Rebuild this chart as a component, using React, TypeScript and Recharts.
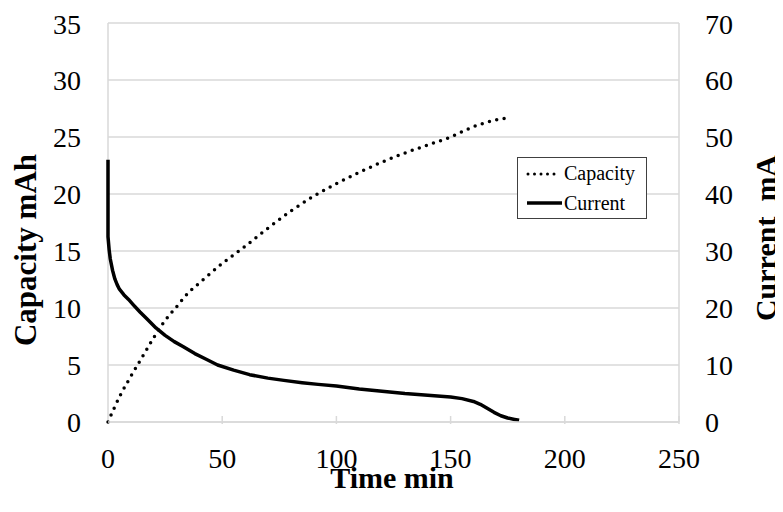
import { LineChart, Line, XAxis, YAxis, CartesianGrid, Legend, Label } from "recharts"

// time (min) / capacity (mAh)
const capTime = [0, 2, 5, 10, 15, 20, 25, 30, 35, 40, 50, 60, 70, 80, 90, 100, 110, 120, 130, 140, 150, 160, 170, 176]
const capValue = [0, 0.9, 2.2, 4.0, 5.7, 7.4, 8.9, 10.1, 11.3, 12.2, 13.9, 15.4, 17.0, 18.5, 19.8, 20.9, 21.9, 22.8, 23.6, 24.3, 25.0, 25.9, 26.5, 26.7]

// time (min) / current (mA)
const curTime = [0, 0, 0.5, 1, 2, 3, 4, 5, 7, 9, 11, 14, 17, 21, 25, 29, 33, 38, 43, 48, 55, 62, 70, 77, 85, 92, 100, 110, 120, 130, 140, 150, 155, 160, 163, 166, 169, 172, 175, 178, 180]
const curValue = [46, 32.5, 30.2, 28.6, 26.6, 25.1, 24.1, 23.3, 22.3, 21.5, 20.6, 19.3, 18.1, 16.5, 15.2, 14.1, 13.2, 12.0, 11.0, 10.0, 9.1, 8.3, 7.7, 7.3, 6.9, 6.6, 6.3, 5.8, 5.4, 5.0, 4.7, 4.4, 4.1, 3.6, 3.1, 2.4, 1.7, 1.1, 0.7, 0.45, 0.3]

const xTicks = [0, 50, 100, 150, 200, 250]
const leftTicks = [0, 5, 10, 15, 20, 25, 30, 35]
const rightTicks = [0, 10, 20, 30, 40, 50, 60, 70]

const capData = capTime.map((t, i) => ({ t, capacity: capValue[i] }))
const curData = curTime.map((t, i) => ({ t, current: curValue[i] }))

const FONT = "'Liberation Serif', 'Times New Roman', serif"
const GRID = "#d9d9d9"

const XTick = (props: any) => {
  const { x, y, payload } = props
  return (
    <g>
      {payload.value !== 0 && <line x1={x} y1={y} x2={x} y2={y - 8} stroke={GRID} strokeWidth={1.5} />}
      <text x={x} y={y + 44} textAnchor="middle" fontSize={28} fontFamily={FONT} fill="#000">
        {payload.value}
      </text>
    </g>
  )
}

const LegendBox = () => (
  <svg width={130} height={62} style={{ display: "block" }}>
    <rect x={0.5} y={0.5} width={129} height={61} fill="#fff" stroke="#404040" strokeWidth={1} />
    <line x1={11} y1={17} x2={43} y2={17} stroke="#000" strokeWidth={3} strokeDasharray="0 6.5" strokeLinecap="round" />
    <text x={47} y={23} fontSize={20} fontFamily={FONT} fill="#000">Capacity</text>
    <line x1={10} y1={46} x2={45} y2={46} stroke="#000" strokeWidth={3.5} />
    <text x={47} y={53} fontSize={20} fontFamily={FONT} fill="#000">Current</text>
  </svg>
)

export default function App() {
  return (
    <div style={{ width: 775, height: 496 }}>
      <LineChart width={775} height={496} margin={{ top: 15, right: 0, left: 0, bottom: 0 }}>
        {/* side frame lines come from the grid so the curves sit on top of them */}
        <CartesianGrid
          stroke={GRID}
          strokeWidth={1.5}
          yAxisId="left"
          verticalCoordinatesGenerator={({ offset }: any) => [offset.left, offset.left + offset.width]}
        />
        <XAxis
          dataKey="t"
          type="number"
          domain={[0, 250]}
          ticks={xTicks}
          height={82}
          tickSize={0}
          tickLine={false}
          axisLine={{ stroke: GRID, strokeWidth: 1.5 }}
          tick={XTick}
          allowDuplicatedCategory
        >
          <Label
            content={() => (
              <text x={384} y={480} textAnchor="middle" fontSize={30} fontWeight="bold" fontFamily={FONT} fill="#000">
                Time min
              </text>
            )}
          />
        </XAxis>
        <YAxis
          yAxisId="left"
          orientation="left"
          domain={[0, 35]}
          ticks={leftTicks}
          width={100}
          tickSize={0}
          tickMargin={27}
          tickLine={false}
          axisLine={false}
          tick={{ fontSize: 28, fontFamily: FONT, fill: "#000" }}
        >
          <Label
            content={() => (
              <text
                x={28}
                y={242}
                transform="rotate(-90 28 242)"
                textAnchor="middle"
                fontSize={31}
                fontWeight="bold"
                fontFamily={FONT}
                fill="#000"
              >
                Capacity mAh
              </text>
            )}
          />
        </YAxis>
        <YAxis
          yAxisId="right"
          orientation="right"
          domain={[0, 70]}
          ticks={rightTicks}
          width={104}
          tickSize={0}
          tickMargin={26}
          tickLine={false}
          axisLine={false}
          tick={{ fontSize: 28, fontFamily: FONT, fill: "#000" }}
        >
          <Label
            content={() => (
              <text
                x={768}
                y={230}
                transform="rotate(-90 768 230)"
                textAnchor="middle"
                fontSize={30}
                fontWeight="bold"
                fontFamily={FONT}
                fill="#000"
              >
                {"Current\u00a0 mA"}
              </text>
            )}
          />
        </YAxis>
        <Legend
          layout="horizontal"
          verticalAlign="middle"
          align="center"
          content={LegendBox}
          wrapperStyle={{ position: "absolute", left: 509, top: 149, width: 130, height: 62 }}
        />
        <Line
          data={capData}
          yAxisId="left"
          dataKey="capacity"
          name="Capacity"
          type="monotone"
          stroke="#000"
          strokeWidth={3.5}
          strokeDasharray="0 7.5"
          strokeLinecap="round"
          dot={false}
          isAnimationActive={false}
        />
        <Line
          data={curData}
          yAxisId="right"
          dataKey="current"
          name="Current"
          type="linear"
          stroke="#000"
          strokeWidth={3.5}
          strokeLinejoin="round"
          dot={false}
          isAnimationActive={false}
        />
      </LineChart>
    </div>
  )
}
